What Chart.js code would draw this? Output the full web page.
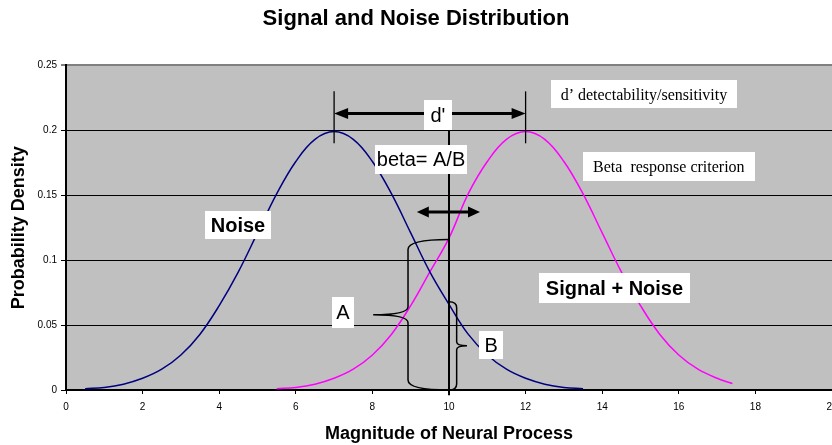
<!DOCTYPE html>
<html>
<head>
<meta charset="utf-8">
<script src="https://cdn.jsdelivr.net/npm/chart.js@4.4.0/dist/chart.umd.min.js"></script>
<style>
  html, body { margin: 0; padding: 0; background: #fff; }
  #wrap { width: 832px; height: 445px; }
</style>
</head>
<body>
<div id="wrap"><canvas id="chart"></canvas></div>
<script>
// values
const noiseX = [0.5, 1, 1.5, 2, 2.5, 3, 3.5, 4, 4.5, 5, 5.5, 6, 6.5, 7, 7.5, 8, 8.5, 9, 9.5, 10, 10.5, 11, 11.5, 12, 12.5, 13, 13.5];
const noiseY = [0.001, 0.002, 0.0045, 0.009, 0.016, 0.027, 0.043, 0.065, 0.091, 0.121, 0.151, 0.176, 0.193, 0.199, 0.193, 0.176, 0.151, 0.121, 0.091, 0.066, 0.043, 0.027, 0.016, 0.009, 0.0045, 0.002, 0.001];
const signalX = [5.5, 6, 6.5, 7, 7.5, 8, 8.5, 9, 9.5, 10, 10.5, 11, 11.5, 12, 12.5, 13, 13.5, 14, 14.5, 15, 15.5, 16, 16.5, 17, 17.4];
const signalY = [0.001, 0.002, 0.0045, 0.009, 0.016, 0.027, 0.043, 0.065, 0.091, 0.117, 0.151, 0.176, 0.193, 0.199, 0.193, 0.176, 0.151, 0.121, 0.091, 0.065, 0.043, 0.027, 0.016, 0.009, 0.005];
const xTicks = [0, 2, 4, 6, 8, 10, 12, 14, 16, 18, 20];
const yTicks = [0, 0.05, 0.1, 0.15, 0.2, 0.25];
const yTickLabels = ['0', '0.05', '0.1', '0.15', '0.2', '0.25'];

const SANS = '"Liberation Sans", Arial, sans-serif';
const SERIF = '"Liberation Serif", "Times New Roman", serif';

// annotation layout (data units for positions, px for box sizes)
const notes = {
  criterion: { x: 10, y0: -0.004, y1: 0.2 },
  dprime: { x0: 7, x1: 12, y: 0.213, tickLo: 0.19, tickHi: 0.23 },
  shift: { x0: 9.16, x1: 10.81, y: 0.137 },
  braceA: { end: 10, spine: 8.93, tip: 8.02, top: 0.116, bottom: 0, r: 10, rm: 8 },
  braceB: { end: 10, spine: 10.2, tip: 10.47, top: 0.068, bottom: 0, r: 6, rm: 4 },
  labels: [
    { text: "d'", x: 9.71, y: 0.2115, font: '20px ' + SANS, w: 28, h: 30 },
    { text: 'beta= A/B', x: 9.27, y: 0.1773, font: '20px ' + SANS, w: 92, h: 29 },
    { text: 'Noise', x: 4.49, y: 0.127, font: 'bold 20px ' + SANS, w: 66, h: 28 },
    { text: 'Signal + Noise', x: 14.32, y: 0.0785, font: 'bold 20px ' + SANS, w: 151, h: 30 },
    { text: 'A', x: 7.23, y: 0.0596, font: '20px ' + SANS, w: 22, h: 31 },
    { text: 'B', x: 11.1, y: 0.0346, font: '20px ' + SANS, w: 24, h: 28 },
    { text: 'd\u2019 detectability/sensitivity', x: 15.09, y: 0.2277, font: '16px ' + SERIF, w: 186, h: 28 },
    { text: 'Beta  response criterion', x: 15.74, y: 0.1719, font: '16px ' + SERIF, w: 172, h: 29 }
  ]
};

function arrowHead(ctx, x, y, dir, len, half) {
  ctx.beginPath();
  ctx.moveTo(x, y);
  ctx.lineTo(x - dir * len, y - half);
  ctx.lineTo(x - dir * len, y + half);
  ctx.closePath();
  ctx.fill();
}

function brace(ctx, xs, ys, b) {
  const xe = xs(b.end), xp = xs(b.spine), xt = xs(b.tip);
  const yt = ys(b.top), yb = ys(b.bottom), ym = (yt + yb) / 2;
  ctx.beginPath();
  ctx.moveTo(xe, yt);
  ctx.quadraticCurveTo(xp, yt, xp, yt + b.r);
  ctx.lineTo(xp, ym - b.rm);
  ctx.quadraticCurveTo(xp, ym, xt, ym);
  ctx.quadraticCurveTo(xp, ym, xp, ym + b.rm);
  ctx.lineTo(xp, yb - b.r);
  ctx.quadraticCurveTo(xp, yb, xe, yb);
  ctx.stroke();
}

const plotBg = {
  id: 'plotBg',
  beforeDraw(chart) {
    const { ctx, chartArea: a } = chart;
    ctx.save();
    ctx.fillStyle = '#c0c0c0';
    ctx.fillRect(a.left, a.top, a.right - a.left, a.bottom - a.top);
    ctx.restore();
  }
};

const annotate = {
  id: 'annotate',
  afterDatasetsDraw(chart) {
    const ctx = chart.ctx;
    const xs = v => chart.scales.x.getPixelForValue(v);
    const ys = v => chart.scales.y.getPixelForValue(v);
    ctx.save();
    ctx.strokeStyle = '#000';
    ctx.fillStyle = '#000';

    // criterion line
    const c = notes.criterion;
    ctx.lineWidth = 2;
    ctx.beginPath();
    ctx.moveTo(xs(c.x), ys(c.y0));
    ctx.lineTo(xs(c.x), ys(c.y1));
    ctx.stroke();

    // d' markers and arrow
    const d = notes.dprime;
    ctx.lineWidth = 1.3;
    [d.x0, d.x1].forEach(x => {
      ctx.beginPath();
      ctx.moveTo(xs(x), ys(d.tickLo));
      ctx.lineTo(xs(x), ys(d.tickHi));
      ctx.stroke();
    });
    ctx.lineWidth = 3;
    ctx.beginPath();
    ctx.moveTo(xs(d.x0) + 10, ys(d.y));
    ctx.lineTo(xs(d.x1) - 10, ys(d.y));
    ctx.stroke();
    arrowHead(ctx, xs(d.x0), ys(d.y), -1, 14, 5.5);
    arrowHead(ctx, xs(d.x1), ys(d.y), 1, 14, 5.5);

    // criterion shift arrow
    const s = notes.shift;
    ctx.beginPath();
    ctx.moveTo(xs(s.x0) + 8, ys(s.y));
    ctx.lineTo(xs(s.x1) - 8, ys(s.y));
    ctx.stroke();
    arrowHead(ctx, xs(s.x0), ys(s.y), -1, 12, 5.5);
    arrowHead(ctx, xs(s.x1), ys(s.y), 1, 12, 5.5);

    // braces
    ctx.lineWidth = 1.5;
    brace(ctx, xs, ys, notes.braceA);
    brace(ctx, xs, ys, notes.braceB);

    // text boxes
    ctx.textAlign = 'center';
    ctx.textBaseline = 'middle';
    notes.labels.forEach(l => {
      const cx = xs(l.x), cy = ys(l.y);
      ctx.fillStyle = '#fff';
      ctx.fillRect(Math.round(cx - l.w / 2), Math.round(cy - l.h / 2), l.w, l.h);
      ctx.fillStyle = '#000';
      ctx.font = l.font;
      ctx.fillText(l.text, cx, cy + 1);
    });
    ctx.restore();
  }
};

new Chart(document.getElementById('chart'), {
  type: 'line',
  data: {
    datasets: [
      {
        label: 'Noise',
        data: noiseX.map((x, i) => ({ x: x, y: noiseY[i] })),
        borderColor: '#000080',
        borderWidth: 1.5,
        pointRadius: 0,
        tension: 0.4,
        fill: false
      },
      {
        label: 'Signal + Noise',
        data: signalX.map((x, i) => ({ x: x, y: signalY[i] })),
        borderColor: '#ff00ff',
        borderWidth: 1.5,
        pointRadius: 0,
        tension: 0.4,
        fill: false
      }
    ]
  },
  options: {
    responsive: true,
    maintainAspectRatio: false,
    animation: false,
    layout: { padding: 0 },
    plugins: {
      legend: { display: false },
      tooltip: { enabled: false },
      title: {
        display: true,
        text: 'Signal and Noise Distribution',
        color: '#000',
        font: { family: SANS, size: 22, weight: 'bold' },
        padding: { top: 6, bottom: 33 }
      }
    },
    scales: {
      x: {
        type: 'linear',
        min: 0,
        max: 20,
        afterBuildTicks: scale => { scale.ticks = xTicks.map(v => ({ value: v })); },
        afterFit: scale => { scale.height = 55; scale.paddingLeft = 0; scale.paddingRight = 0; },
        ticks: {
          color: '#000',
          font: { family: SANS, size: 10 },
          padding: 7,
          maxRotation: 0,
          autoSkip: false
        },
        grid: { drawOnChartArea: false, drawTicks: true, tickLength: 4, color: '#000', lineWidth: 1 },
        border: { color: '#000', width: 2 },
        title: {
          display: true,
          text: 'Magnitude of Neural Process',
          color: '#000',
          font: { family: SANS, size: 18, weight: 'bold' },
          padding: { top: 0, bottom: 0 }
        }
      },
      y: {
        min: 0,
        max: 0.25,
        afterBuildTicks: scale => { scale.ticks = yTicks.map(v => ({ value: v })); },
        afterFit: scale => { scale.width = 66; scale.paddingTop = 0; scale.paddingBottom = 0; },
        ticks: {
          color: '#000',
          font: { family: SANS, size: 10 },
          padding: 4,
          callback: (v, i) => yTickLabels[i]
        },
        grid: {
          drawTicks: true,
          tickLength: 5,
          color: ctx => (ctx.tick && ctx.tick.value === 0.25 ? '#808080' : '#000'),
          lineWidth: ctx => (ctx.tick && ctx.tick.value === 0.25 ? 2 : 1)
        },
        border: { color: '#000', width: 2 },
        title: {
          display: true,
          text: 'Probability Density',
          color: '#000',
          font: { family: SANS, size: 18, weight: 'bold' },
          padding: { top: 8, bottom: 0 }
        }
      }
    }
  },
  plugins: [plotBg, annotate]
});
</script>
</body>
</html>
